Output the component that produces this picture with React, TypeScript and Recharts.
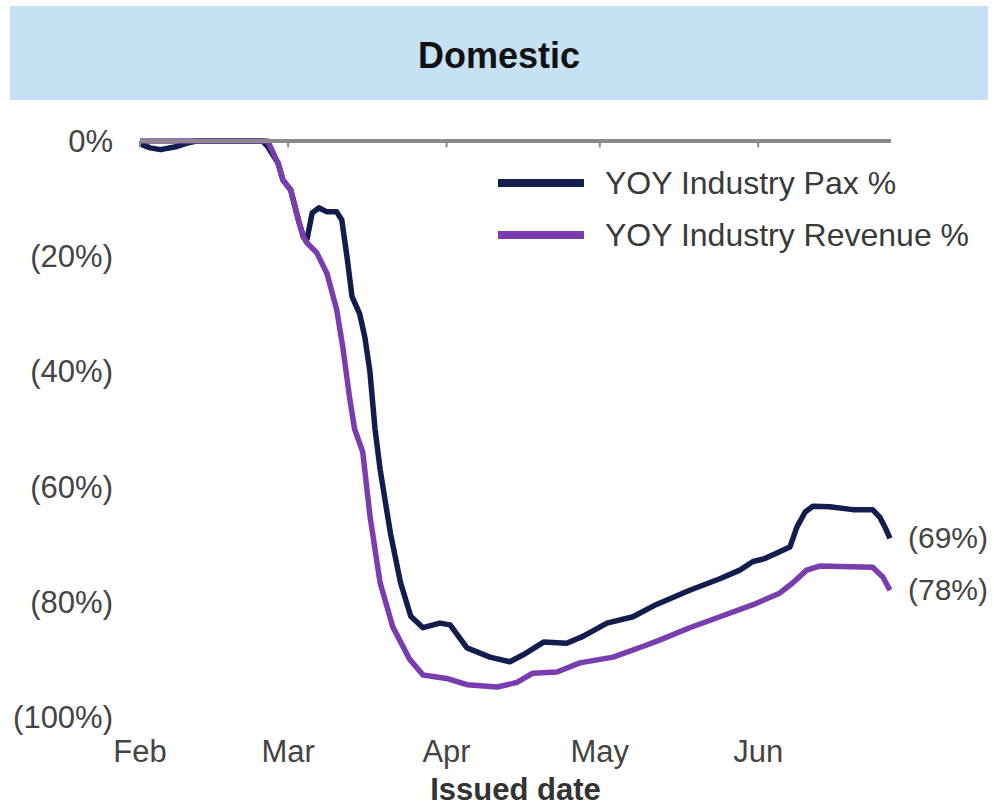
import { LineChart, Line, XAxis, YAxis, ReferenceLine } from 'recharts';

// day 0 = Feb 1 (2020), values are YOY % change
const paxDays = [0, 2, 4, 7, 9.5, 11, 24, 25, 27, 28, 29.5, 31, 32, 32.7, 33.7, 35, 36.6, 38.5, 39.5, 40.5, 41.5, 43, 44, 45, 46, 47, 49, 51, 53, 55.4, 58.7, 60.7, 64, 68.5, 72.4, 75, 79, 83.5, 86.7, 91.4, 96.5, 101, 107.6, 113.5, 117.4, 120, 122.3, 125.2, 127.2, 128.6, 130.2, 131.7, 135, 139.5, 143.4, 144.8, 145.8, 146.8];
const paxValues = [-0.5, -1.2, -1.5, -1.0, -0.3, 0, 0, -1, -3.8, -6.8, -8.5, -13.7, -16.7, -17, -12.5, -11.6, -12.3, -12.3, -13.7, -20, -27, -30, -34, -40, -50, -57, -68, -76.7, -82.5, -84.5, -83.7, -84, -88, -89.6, -90.4, -89.2, -87, -87.2, -86, -83.7, -82.6, -80.5, -78, -76, -74.5, -73, -72.5, -71.3, -70.5, -67, -64.4, -63.4, -63.5, -64, -64, -65.3, -67, -69];

const revDays = [0, 25, 27, 28, 29.5, 31, 32, 32.7, 34.6, 36.6, 38.5, 39.7, 41, 42, 43.6, 45, 47, 49.5, 52.8, 55.4, 60, 64, 69.9, 73.8, 76.9, 81.6, 86.1, 92.6, 99.2, 101.8, 107.6, 113.5, 120, 125.2, 127.8, 130.5, 133, 143.4, 145.4, 146.8];
const revValues = [0, 0, -3.8, -6.8, -8.5, -13.7, -16.7, -17.7, -19.4, -23, -29.3, -35.8, -44.4, -50, -54, -65, -76.7, -84.4, -90, -92.7, -93.3, -94.4, -94.8, -94, -92.4, -92.2, -90.6, -89.6, -87.5, -86.6, -84.5, -82.6, -80.5, -78.5, -76.7, -74.5, -73.8, -74, -75.7, -78];

const monthTicks = [0, 29, 60, 90, 121];
const monthLabels = ['Feb', 'Mar', 'Apr', 'May', 'Jun'];
const yTicks = [0, -20, -40, -60, -80, -100];

const PAX = 'YOY Industry Pax %';
const REV = 'YOY Industry Revenue %';
const NAVY = '#111d4c';
const PURPLE = '#7a3db0';
const AXIS = '#8a8a8a';
const FONT = '"Liberation Sans", Arial, sans-serif';

const X_DOMAIN = [0, 147];
const Y_DOMAIN = [-100, 0];
const MARGIN = { top: 141, right: 103, bottom: 0, left: 0 };

const paxData = paxDays.map((d, i) => ({ day: d, value: paxValues[i] }));
const revData = revDays.map((d, i) => ({ day: d, value: revValues[i] }));

const pct = (v: number) => (v === 0 ? '0%' : v < 0 ? `(${Math.abs(v)}%)` : `${v}%`);

function endLabel(count: number) {
  return (props: any) => {
    const { index, x, y, value } = props;
    if (index !== count - 1) return null;
    return (
      <text
        x={x + 18}
        y={y + 2}
        fill="#444"
        fontSize={30}
        fontFamily={FONT}
        dominantBaseline="middle"
      >
        {pct(Math.round(value))}
      </text>
    );
  };
}

function LegendBox() {
  const items = [
    { label: PAX, color: NAVY },
    { label: REV, color: PURPLE },
  ];
  return (
    <div style={{ position: 'absolute', left: 498, top: 157 }}>
      {items.map((it) => (
        <div key={it.label} style={{ display: 'flex', alignItems: 'center', height: 52 }}>
          <div style={{ width: 86, height: 8, background: it.color, marginRight: 21 }} />
          <span style={{ fontSize: 32, color: '#3a3a3a', fontFamily: FONT, whiteSpace: 'nowrap' }}>
            {it.label}
          </span>
        </div>
      ))}
    </div>
  );
}

// the zero line sits over the series in the original, so it gets its own layer
function ZeroAxisOverlay() {
  return (
    <div style={{ position: 'absolute', left: 0, top: 0, pointerEvents: 'none' }}>
      <LineChart width={994} height={806} data={paxData} margin={MARGIN}>
        <XAxis
          dataKey="day"
          type="number"
          domain={X_DOMAIN}
          height={89}
          axisLine={false}
          tickLine={false}
          tick={false}
        />
        <YAxis
          dataKey="value"
          type="number"
          domain={Y_DOMAIN}
          width={140}
          axisLine={false}
          tickLine={false}
          tick={false}
        />
        <ReferenceLine y={0} stroke={AXIS} strokeWidth={4} />
        {monthTicks.map((t) => (
          <ReferenceLine
            key={t}
            segment={[{ x: t, y: 0 }, { x: t, y: -1.1 }]}
            stroke={AXIS}
            strokeWidth={2}
          />
        ))}
      </LineChart>
    </div>
  );
}

export default function App() {
  return (
    <div
      style={{
        position: 'absolute',
        left: 0,
        top: 0,
        width: 994,
        height: 806,
        background: '#fff',
        fontFamily: FONT,
        overflow: 'hidden',
      }}
    >
      <div
        style={{
          position: 'absolute',
          left: 10,
          top: 6,
          width: 978,
          height: 94,
          background: '#c6e0f4',
          display: 'flex',
          alignItems: 'center',
          justifyContent: 'center',
          fontWeight: 700,
          fontSize: 36,
          color: '#111',
          boxSizing: 'border-box',
          paddingTop: 6,
        }}
      >
        Domestic
      </div>
      <div style={{ position: 'absolute', left: 0, top: 0 }}>
        <LineChart width={994} height={806} margin={MARGIN}>
          <XAxis
            dataKey="day"
            type="number"
            domain={X_DOMAIN}
            ticks={monthTicks}
            tickFormatter={(v: number) => monthLabels[monthTicks.indexOf(v)] ?? ''}
            axisLine={false}
            tickLine={false}
            tickSize={0}
            tickMargin={23}
            height={89}
            tick={{ fontSize: 31, fill: '#444', fontFamily: FONT }}
            label={{
              value: 'Issued date',
              position: 'insideBottom',
              offset: 6,
              style: { fontSize: 31, fontWeight: 700, fill: '#333', fontFamily: FONT },
            }}
          />
          <YAxis
            dataKey="value"
            type="number"
            domain={Y_DOMAIN}
            ticks={yTicks}
            tickFormatter={pct}
            axisLine={false}
            tickLine={false}
            tickSize={0}
            tickMargin={27}
            width={140}
            tick={{ fontSize: 31, fill: '#444', fontFamily: FONT }}
          />
          <Line
            data={paxData}
            dataKey="value"
            name={PAX}
            stroke={NAVY}
            strokeWidth={5.5}
            strokeLinejoin="round"
            dot={false}
            type="linear"
            isAnimationActive={false}
            label={endLabel(paxData.length)}
          />
          <Line
            data={revData}
            dataKey="value"
            name={REV}
            stroke={PURPLE}
            strokeWidth={5.5}
            strokeLinejoin="round"
            dot={false}
            type="linear"
            isAnimationActive={false}
            label={endLabel(revData.length)}
          />
        </LineChart>
      </div>
      <ZeroAxisOverlay />
      <LegendBox />
    </div>
  );
}
